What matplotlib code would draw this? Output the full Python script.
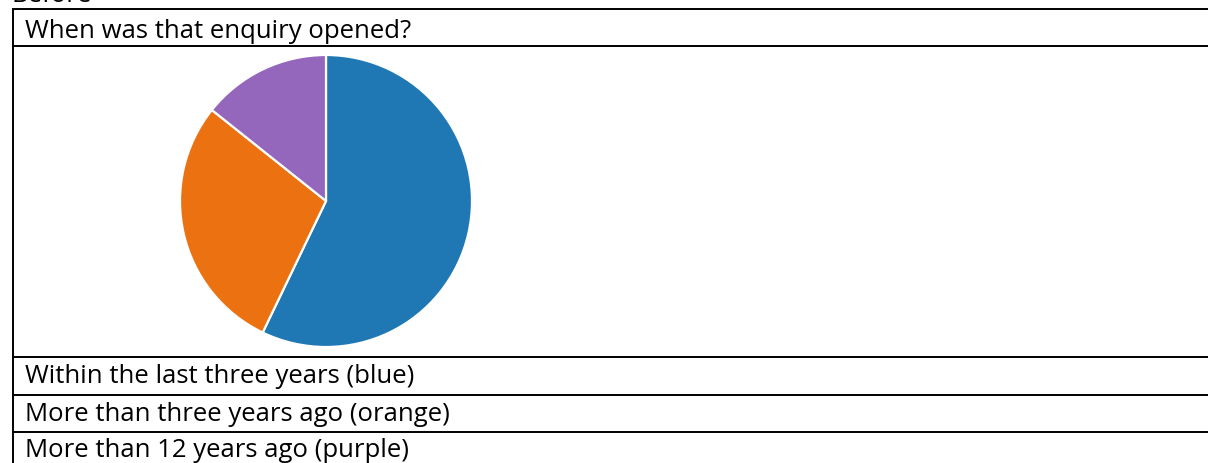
import matplotlib
matplotlib.use("Agg")
import matplotlib.pyplot as plt

# data: 4 / 2 / 1 responses
labels = ["Within the last three years", "More than three years ago", "More than 12 years ago"]
values = [4, 2, 1]
colors = ["#1f77b4", "#ec7211", "#9467bd"]
title = "When was that enquiry opened?"
rows = [
    "Within the last three years (blue)",
    "More than three years ago (orange)",
    "More than 12 years ago (purple)",
]

W, H = 1208, 463
fig = plt.figure(figsize=(W / 100, H / 100), dpi=100)
plt.rcParams["font.family"] = ["Open Sans", "DejaVu Sans"]

# table layer in pixel coordinates
tab = fig.add_axes([0, 0, 1, 1])
tab.set_xlim(0, W)
tab.set_ylim(H, 0)
tab.axis("off")

line_kw = dict(color="black", linewidth=1.4, solid_capstyle="butt")
for y in [9, 45.5, 357, 395, 432]:
    tab.plot([12, W], [y, y], **line_kw)
tab.plot([12.5, 12.5], [9, H], **line_kw)

text_x = 25
fs = 18.5
# only the bottom of this heading shows in the reference (cut at the top edge)
tab.text(12, 2.5, "Before", fontsize=fs, va="baseline", ha="left", clip_on=True)
tab.text(text_x, 37.5, title, fontsize=fs, va="baseline", ha="left")
for base, label in zip([383, 421, 457], rows):
    tab.text(text_x, base, label, fontsize=fs, va="baseline", ha="left")

# pie: centre ~ (326, 201) px, radius ~146 px
cx, cy, r = 326, 201, 146
pie_ax = fig.add_axes([(cx - r) / W, (H - cy - r) / H, 2 * r / W, 2 * r / H])
pie_ax.pie(
    values,
    colors=colors,
    startangle=90,
    counterclock=False,
    radius=1,
    wedgeprops=dict(edgecolor="white", linewidth=1.6),
)
pie_ax.set_xlim(-1.0, 1.0)
pie_ax.set_ylim(-1.0, 1.0)
pie_ax.axis("off")

fig.savefig("out.png", dpi=100)
